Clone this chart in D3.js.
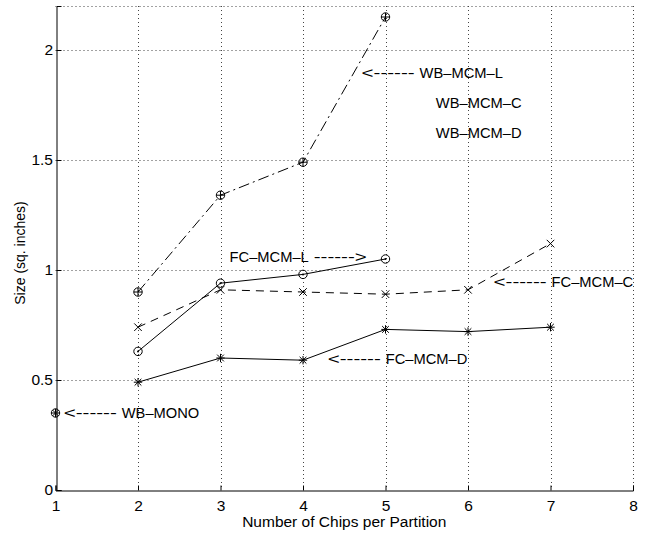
<!DOCTYPE html>
<html>
<head>
<meta charset="utf-8">
<script src="https://cdn.jsdelivr.net/npm/d3@7"></script>
<style>
  body { margin: 0; background: #fff; }
  svg text { font-family: "Liberation Sans", Arial, Helvetica, sans-serif; fill: #000; }
</style>
</head>
<body>
<div id="chart"></div>
<script>
// Data
const xTicks = [1, 2, 3, 4, 5, 6, 7, 8];
const yTicks = [0, 0.5, 1, 1.5, 2];

const wbMcmLx = [2, 3, 4, 5];
const wbMcmL = [0.90, 1.34, 1.49, 2.15];

const fcMcmLx = [2, 3, 4, 5];
const fcMcmL = [0.63, 0.94, 0.98, 1.05];

const fcMcmCx = [2, 3, 4, 5, 6, 7];
const fcMcmC = [0.74, 0.91, 0.90, 0.89, 0.91, 1.12];

const fcMcmDx = [2, 3, 4, 5, 6, 7];
const fcMcmD = [0.49, 0.60, 0.59, 0.73, 0.72, 0.74];

const wbMonoX = [1];
const wbMono = [0.35];

// annotations: [x, y, label, arrow side] in data coords
const notes = [
  [4.71, 1.895, 'WB\u2013MCM\u2013L', 'left'],
  [3.11, 1.06, 'FC\u2013MCM\u2013L', 'right'],
  [6.31, 0.945, 'FC\u2013MCM\u2013C', 'left'],
  [4.30, 0.595, 'FC\u2013MCM\u2013D', 'left'],
  [1.10, 0.35, 'WB\u2013MONO', 'left'],
  [5.61, 1.76, 'WB\u2013MCM\u2013C', null],
  [5.61, 1.625, 'WB\u2013MCM\u2013D', null]
];

const W = 645, H = 535;
const m = {left: 55.5, right: 12, top: 6, bottom: 45};

const svg = d3.select('#chart').append('svg')
  .attr('width', W).attr('height', H);

const x = d3.scaleLinear().domain([1, 8]).range([m.left, W - m.right]);
const y = d3.scaleLinear().domain([0, 2.2]).range([H - m.bottom, m.top]);

// grid (dotted, also closes the box on top and right)
const grid = svg.append('g').attr('class', 'grid')
  .attr('stroke', '#444').attr('stroke-width', 1).attr('stroke-dasharray', '1,3');
grid.selectAll('line.v').data(xTicks.slice(1)).join('line')
  .attr('x1', d => Math.round(x(d)) + 0.5).attr('x2', d => Math.round(x(d)) + 0.5)
  .attr('y1', y(2.2)).attr('y2', y(0));
grid.selectAll('line.h').data(yTicks.slice(1).concat([2.2])).join('line')
  .attr('y1', d => Math.round(y(d)) + 0.5).attr('y2', d => Math.round(y(d)) + 0.5)
  .attr('x1', x(1)).attr('x2', x(8));

// axes
const xAxis = svg.append('g')
  .attr('transform', `translate(0,${Math.round(y(0)) + 0.5})`)
  .call(d3.axisBottom(x).tickValues(xTicks).tickSize(-5).tickPadding(9.5).tickFormat(d3.format('d')));
const yAxis = svg.append('g')
  .attr('transform', `translate(${Math.round(x(1)) + 0.5},0)`)
  .call(d3.axisLeft(y).tickValues(yTicks).tickSize(-5).tickPadding(3.5).tickFormat(d => d));
[xAxis, yAxis].forEach(a => {
  a.select('.domain').attr('stroke', '#000');
  a.selectAll('.tick line').attr('stroke', '#000');
  a.selectAll('.tick text').attr('font-size', 15.5).style('font-family', '"Liberation Sans", Arial, sans-serif');
});

// axis labels
svg.append('text')
  .attr('x', (x(1) + x(8)) / 2).attr('y', 527)
  .attr('text-anchor', 'middle').attr('font-size', 15.5)
  .text('Number of Chips per Partition');
svg.append('text')
  .attr('transform', `translate(25,253) rotate(-90)`)
  .attr('text-anchor', 'middle').attr('font-size', 14)
  .text('Size (sq. inches)');

// lines
const line = d3.line().x(d => x(d[0])).y(d => y(d[1]));
const zip = (xs, ys) => xs.map((v, i) => [v, ys[i]]);

const series = [
  {pts: zip(wbMcmLx, wbMcmL), dash: '11,4,2,4', marker: 'oplus'},
  {pts: zip(fcMcmLx, fcMcmL), dash: null, marker: 'odot'},
  {pts: zip(fcMcmCx, fcMcmC), dash: '8,6', marker: 'x'},
  {pts: zip(fcMcmDx, fcMcmD), dash: null, marker: 'star'},
  {pts: zip(wbMonoX, wbMono), dash: null, marker: 'otimes'}
];

series.forEach(s => {
  svg.append('path').datum(s.pts)
    .attr('fill', 'none').attr('stroke', '#000').attr('stroke-width', 1)
    .attr('stroke-dasharray', s.dash)
    .attr('d', line);
});

// markers
const r = 4.2;
function drawMarker(g, type) {
  const st = sel => sel.attr('stroke', '#000').attr('stroke-width', 1).attr('fill', 'none');
  const seg = (x1, y1, x2, y2) => st(g.append('line').attr('x1', x1).attr('y1', y1).attr('x2', x2).attr('y2', y2));
  if (type === 'oplus' || type === 'odot' || type === 'otimes') {
    st(g.append('circle').attr('r', r));
  }
  if (type === 'oplus' || type === 'otimes') { seg(-r, 0, r, 0); seg(0, -r, 0, r); }
  if (type === 'otimes') { const k = r * 0.7; seg(-k, -k, k, k); seg(-k, k, k, -k); }
  if (type === 'odot') { g.append('circle').attr('r', 1).attr('fill', '#000'); }
  if (type === 'x') { const k = r * 0.9; seg(-k, -k, k, k); seg(-k, k, k, -k); }
  if (type === 'star') {
    const k = r * 0.8;
    seg(-r, 0, r, 0); seg(0, -r, 0, r); seg(-k, -k, k, k); seg(-k, k, k, -k);
  }
}
series.forEach(s => {
  svg.append('g').selectAll('g').data(s.pts).join('g')
    .attr('transform', d => `translate(${x(d[0])},${y(d[1])})`)
    .each(function () { drawMarker(d3.select(this), s.marker); });
});

// annotations: text label plus a "<------" / "------>" arrow made of text
const arrowW = 53, gap = 5;
const ann = svg.append('g').attr('font-size', 14.7);
notes.forEach(([nx, ny, label, side]) => {
  const px = x(nx), py = y(ny);
  const g = ann.append('g').attr('transform', `translate(${px},${py})`);
  if (side === 'left') {
    g.append('text').attr('dy', '0.35em')
      .attr('textLength', arrowW).attr('lengthAdjust', 'spacingAndGlyphs')
      .text('<------');
    g.append('text').attr('x', arrowW + gap).attr('dy', '0.35em').text(label);
  } else if (side === 'right') {
    const t = g.append('text').attr('dy', '0.35em').text(label);
    const w = t.node().getComputedTextLength();
    g.append('text').attr('x', w + gap).attr('dy', '0.35em')
      .attr('textLength', arrowW).attr('lengthAdjust', 'spacingAndGlyphs')
      .text('------>');
  } else {
    g.append('text').attr('dy', '0.35em').text(label);
  }
});
</script>
</body>
</html>
